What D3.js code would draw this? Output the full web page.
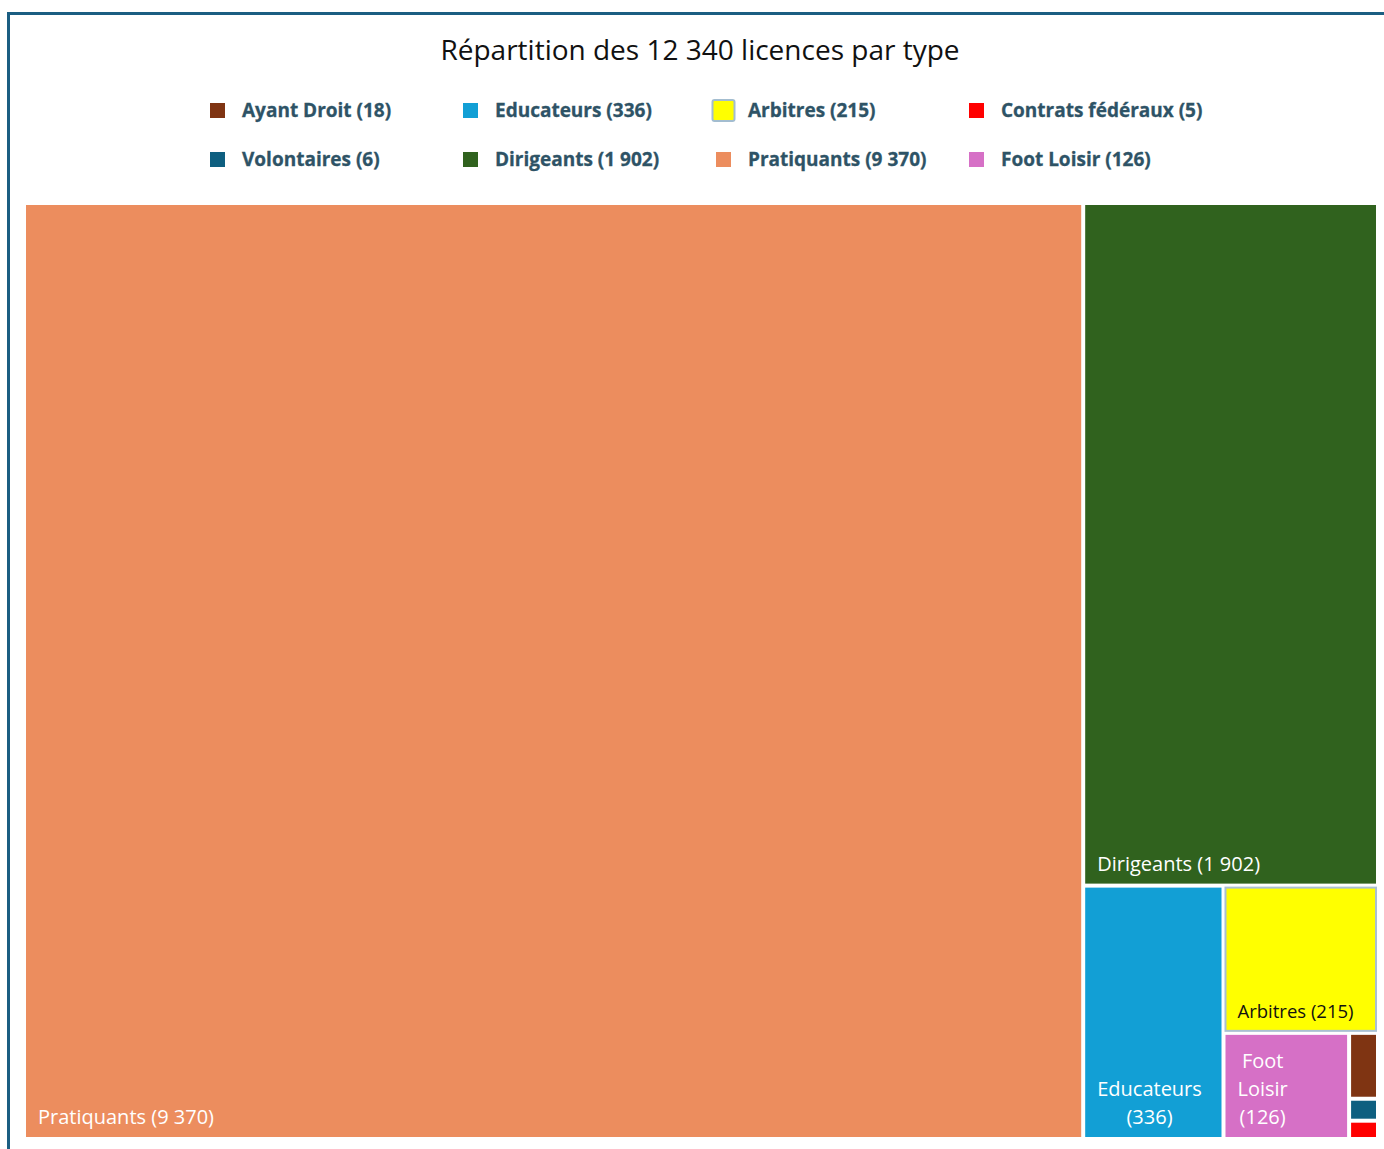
<!DOCTYPE html>
<html>
<head>
<meta charset="utf-8">
<script src="https://cdn.jsdelivr.net/npm/d3@7"></script>
<style>
  html, body { margin: 0; padding: 0; background: #fff; }
  svg { display: block; }
</style>
</head>
<body>
<svg id="chart" width="1384" height="1149"></svg>
<script>
// ---- Data ----
const titleText = "Répartition des 12 340 licences par type";
const categories = ["Ayant Droit", "Volontaires", "Educateurs", "Dirigeants", "Arbitres", "Pratiquants", "Contrats fédéraux", "Foot Loisir"];
const values = [18, 6, 336, 1902, 215, 9370, 5, 126];
const colors = ["#7F3412", "#0E5F80", "#129FD5", "#30621E", "#FFFF00", "#EC8D5E", "#FF0000", "#D670C6"];
const labelColors = ["#fff", "#fff", "#fff", "#fff", "#111", "#fff", "#fff", "#fff"];
const highlighted = "Arbitres";

// ---- Setup ----
const W = 1384, H = 1149;
const svg = d3.select("#chart");
const fontFamily = "'Open Sans', 'Noto Sans', sans-serif";
const fr = d3.formatLocale({decimal: ",", thousands: " ", grouping: [3], currency: ["", " €"]});
const fmt = fr.format(",d");

const data = categories.map((c, i) => ({name: c, value: values[i], labelColor: labelColors[i]}));
const color = d3.scaleOrdinal().domain(categories).range(colors);

// Frame
svg.append("rect")
  .attr("x", 8.5).attr("y", 13.5)
  .attr("width", W + 20).attr("height", H + 20)
  .attr("fill", "none")
  .attr("stroke", "#1B5E82")
  .attr("stroke-width", 3);

// Title
svg.append("text")
  .attr("x", 700).attr("y", 59.5)
  .attr("text-anchor", "middle")
  .attr("font-family", fontFamily)
  .attr("font-size", 28)
  .attr("fill", "#111")
  .text(titleText);

// Legend (column-major, 2 rows)
const legend = svg.append("g");
const legX = d3.scaleLinear().domain([0, 3]).range([210, 969]);
const legY = d3.scalePoint().domain([0, 1]).range([110.5, 159.5]);
data.forEach((d, i) => {
  const col = Math.floor(i / 2), row = i % 2;
  const g = legend.append("g").attr("transform", `translate(${legX(col)},${legY(row)})`);
  if (d.name === highlighted) {
    g.append("rect").attr("x", -3.5).attr("y", -10.5).attr("width", 22).attr("height", 21)
      .attr("fill", color(d.name)).attr("stroke", "#A3BDD0").attr("stroke-width", 2).attr("rx", 2);
  } else {
    g.append("rect").attr("x", 0).attr("y", -7.5).attr("width", 15).attr("height", 15)
      .attr("fill", color(d.name));
  }
  g.append("text")
    .attr("x", 32).attr("y", 0)
    .attr("dy", "0.35em")
    .attr("font-family", fontFamily)
    .attr("font-weight", 700)
    .attr("font-size", 19)
    .attr("fill", "#2E5366")
    .attr("stroke", "#2E5366").attr("stroke-width", 0.3)
    .text(`${d.name} (${fmt(d.value)})`);
});

// Treemap
const x0 = 26, y0 = 205, x1 = 1376, y1 = 1137;
const root = d3.hierarchy({children: data}).sum(d => d.value || 0)
  .sort((a, b) => b.value - a.value);
d3.treemap()
  .tile(d3.treemapSquarify.ratio(1))
  .size([x1 - x0, y1 - y0])
  .paddingInner(4)
  .round(false)(root);

const tm = svg.append("g").attr("transform", `translate(${x0},${y0})`);
const leaves = root.leaves();

const cells = tm.selectAll("g.cell").data(leaves).join("g").attr("class", "cell");
cells.append("rect")
  .attr("x", d => d.x0).attr("y", d => d.y0)
  .attr("width", d => d.x1 - d.x0).attr("height", d => d.y1 - d.y0)
  .attr("fill", d => color(d.data.name))
  .attr("stroke", d => d.data.name === highlighted ? "#A9C0D2" : "none")
  .attr("stroke-width", d => d.data.name === highlighted ? 2 : 0);

// Labels with wrapping
const measurer = svg.append("text").attr("font-family", fontFamily).attr("visibility", "hidden");
function measure(str, size) {
  measurer.attr("font-size", size).text(str);
  return measurer.node().getComputedTextLength();
}
const padX = 12, wrapPad = 14, padBottom = 13, lineH = 28;
leaves.forEach(d => {
  const w = d.x1 - d.x0, h = d.y1 - d.y0;
  const size = d.data.name === highlighted ? 18.5 : 20;
  const label = `${d.data.name} (${fmt(d.data.value)})`;
  const maxW = w - 2 * wrapPad;
  if (maxW < 40 || h < 40) return;
  const words = label.split(" ");
  // keep the number group together e.g. "(9 370)"
  const tokens = [];
  words.forEach(wd => {
    if (tokens.length && /^\(/.test(tokens[tokens.length - 1]) && !/\)$/.test(tokens[tokens.length - 1])) {
      tokens[tokens.length - 1] += " " + wd;
    } else tokens.push(wd);
  });
  const lines = [];
  let cur = "";
  tokens.forEach(t => {
    const test = cur ? cur + " " + t : t;
    if (measure(test, size) <= maxW || !cur) cur = test;
    else { lines.push(cur); cur = t; }
  });
  if (cur) lines.push(cur);
  const widths = lines.map(l => measure(l, size));
  const blockW = d3.max(widths);
  const cx = d.x0 + padX + blockW / 2;
  const t = tm.append("text")
    .attr("font-family", fontFamily)
    .attr("font-size", size)
    .attr("fill", d.data.labelColor)
    .attr("text-anchor", "middle");
  lines.forEach((l, i) => {
    t.append("tspan")
      .attr("x", cx)
      .attr("y", d.y1 - padBottom - (lines.length - 1 - i) * lineH)
      .text(l);
  });
});
measurer.remove();
</script>
</body>
</html>
